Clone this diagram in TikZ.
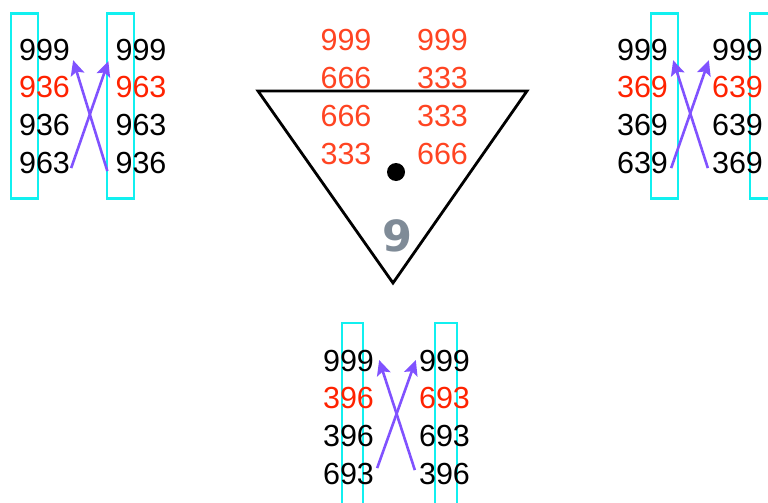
\documentclass[tikz,border=0pt]{standalone}
\usepackage{fontspec}
\setmainfont{Liberation Sans}
\newfontfamily\ninefamily{DejaVu Sans}
\usepackage{tikz}
\usetikzlibrary{arrows.meta,positioning}
\definecolor{hotred}{HTML}{FF2200}
\definecolor{trired}{HTML}{FF4422}
\definecolor{boxcyan}{HTML}{11F0F0}
\definecolor{swappurple}{HTML}{8052FF}
\definecolor{ninegray}{HTML}{7F8B97}
\tikzset{
  num/.style={font=\fontsize{30.5}{36}\selectfont, inner sep=0pt, text height=22pt, text depth=0pt},
  hot/.style={num, text=hotred},
  trinum/.style={num, text=trired},
  colbox/.style={draw=boxcyan, line width=2.8pt, minimum width=27pt, minimum height=185pt, inner sep=0pt},
  swaparrow/.style={draw=swappurple, line width=2.6pt,
    arrows={-Stealth[length=15pt,width=14pt,inset=3pt,fill=swappurple]}},
}
\begin{document}
\begin{tikzpicture}[x=1pt, y=-1pt, node distance=15.3pt]
  \useasboundingbox (0,0) rectangle (768,503);

  % top left
  \node[colbox] (tlbox1) at (24.5,106) {};
  \node[colbox] (tlbox2) at (120.5,106) {};
  \node[num] (tla1) at (44.5,49) {999};
  \node[hot, below=of tla1] (tla2) {936};
  \node[num, below=of tla2] (tla3) {936};
  \node[num, below=of tla3] (tla4) {963};
  \node[num] (tlb1) at (141,49) {999};
  \node[hot, below=of tlb1] (tlb2) {963};
  \node[num, below=of tlb2] (tlb3) {963};
  \node[num, below=of tlb3] (tlb4) {936};
  \draw[swaparrow] ([xshift=1pt,yshift=-6pt]tla4.east) -- ([xshift=-7pt,yshift=-1pt]tlb1.south west);
  \draw[swaparrow] ([xshift=-8pt,yshift=-9pt]tlb4.west) -- ([xshift=3pt]tla1.south east);

  % triangle
  \draw[line width=2.8pt, line join=miter] (258,91) coordinate (tria) -- (527,91) coordinate (trib)
    -- (393,283) coordinate (tric) -- cycle;
  \node[trinum] (tra1) at (346,40) {999};
  \node[trinum, below=of tra1] (tra2) {666};
  \node[trinum, below=of tra2] (tra3) {666};
  \node[trinum, below=of tra3] (tra4) {333};
  \node[trinum] (trb1) at (442.5,40) {999};
  \node[trinum, below=of trb1] (trb2) {333};
  \node[trinum, below=of trb2] (trb3) {333};
  \node[trinum, below=of trb3] (trb4) {666};
  \fill (396,172) circle (9pt);
  \node[font=\ninefamily\bfseries\fontsize{43}{43}\selectfont, text=ninegray, inner sep=0pt] (nine) at (397,236) {9};

  % top right
  \node[colbox] (trbox1) at (664.5,106) {};
  \node[colbox] (trbox2) at (763.5,106) {};
  \node[num] (rta1) at (642.5,49) {999};
  \node[hot, below=of rta1] (rta2) {369};
  \node[num, below=of rta2] (rta3) {369};
  \node[num, below=of rta3] (rta4) {639};
  \node[num] (rtb1) at (737.5,49) {999};
  \node[hot, below=of rtb1] (rtb2) {639};
  \node[num, below=of rtb2] (rtb3) {639};
  \node[num, below=of rtb3] (rtb4) {369};
  \draw[swaparrow] ([xshift=3pt,yshift=-6pt]rta4.east) -- ([xshift=-3pt]rtb1.south west);
  \draw[swaparrow] ([xshift=-4pt,yshift=-6pt]rtb4.west) -- ([xshift=5pt]rta1.south east);

  % bottom
  \node[colbox, minimum width=21pt, minimum height=190pt] (btbox1) at (352.5,418) {};
  \node[colbox, minimum width=22pt, minimum height=190pt] (btbox2) at (446,418) {};
  \node[num] (bta1) at (348.5,360) {999};
  \node[hot, below=of bta1] (bta2) {396};
  \node[num, below=of bta2] (bta3) {396};
  \node[num, below=of bta3] (bta4) {693};
  \node[num] (btb1) at (444.5,360) {999};
  \node[hot, below=of btb1] (btb2) {693};
  \node[num, below=of btb2] (btb3) {693};
  \node[num, below=of btb3] (btb4) {396};
  \draw[swaparrow] ([xshift=3pt,yshift=5pt]bta4.east) -- ([xshift=-3pt]btb1.west);
  \draw[swaparrow] ([xshift=-4pt,yshift=3pt]btb4.west) -- ([xshift=5pt]bta1.east);
\end{tikzpicture}
\end{document}
